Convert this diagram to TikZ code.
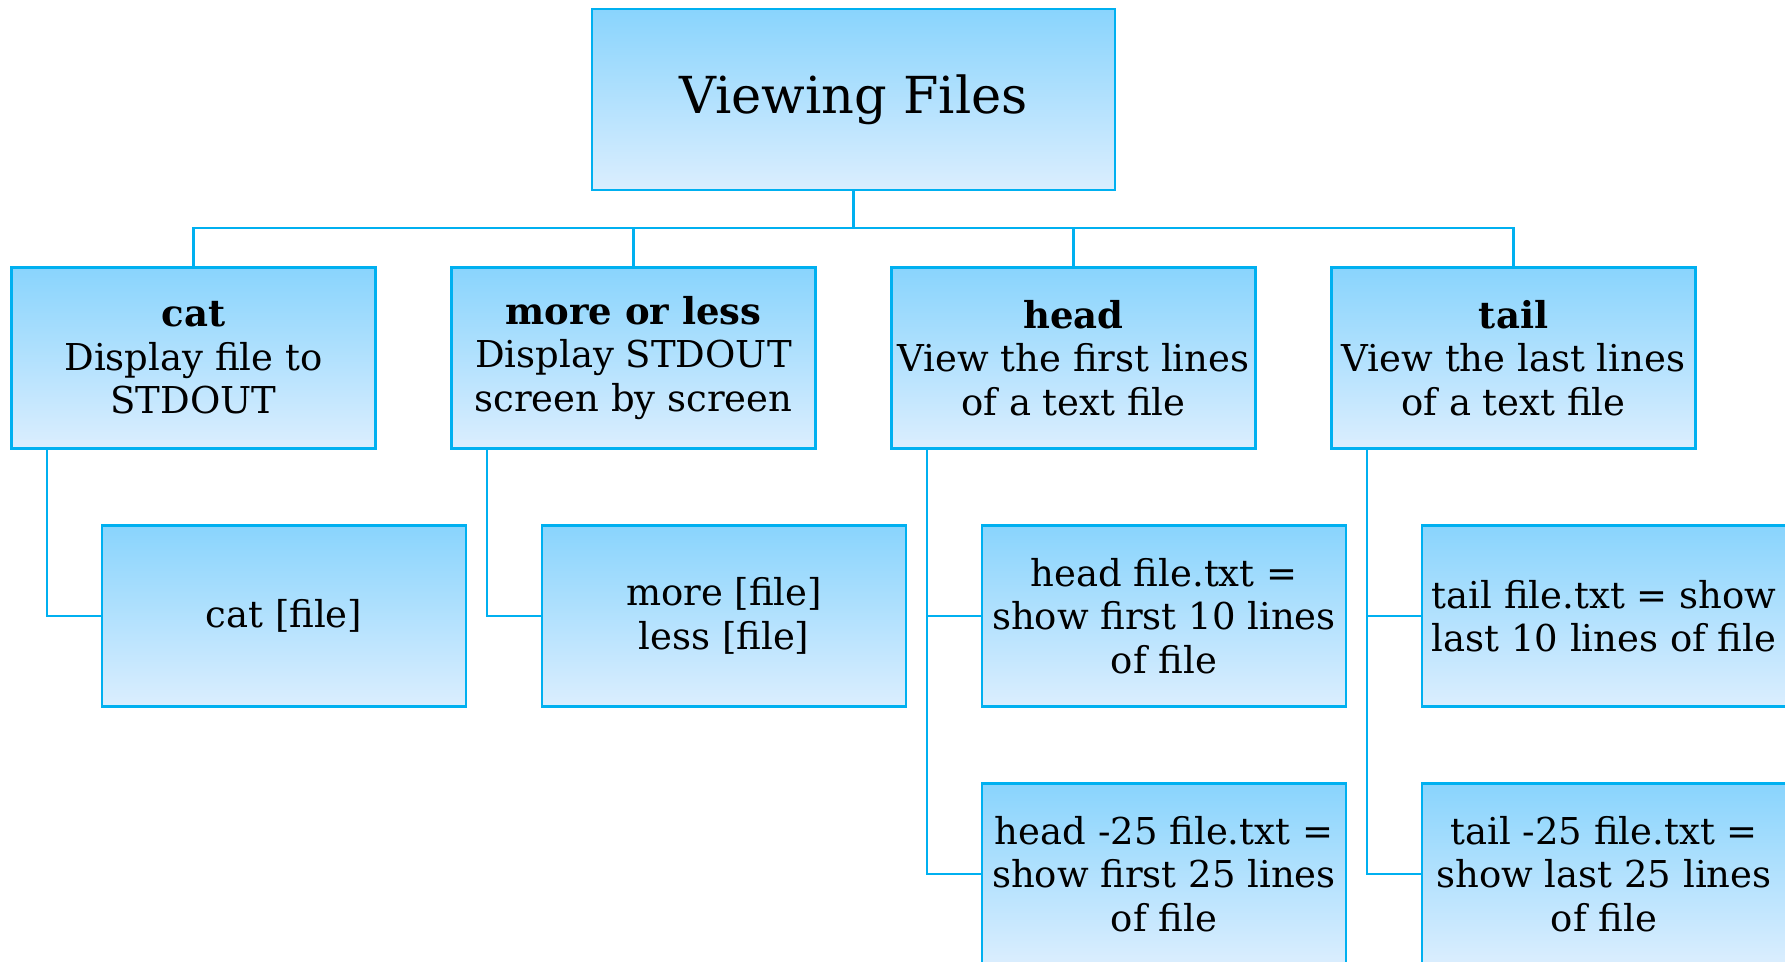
\documentclass[tikz,border=0pt]{standalone}
\usepackage{fontspec}
\setmainfont{DejaVu Serif}
\definecolor{BOXLINE}{RGB}{0,176,240}
\definecolor{BOXTOP}{RGB}{137,212,253}
\definecolor{BOXBOTTOM}{RGB}{219,238,254}
\tikzset{
BOX/.style ={draw=BOXLINE,line width=2.5pt,top color=BOXTOP,bottom color=BOXBOTTOM,minimum width=364pt,minimum height=181pt,inner sep=0pt,align=center,font=\fontsize{37}{43.5}\selectfont},
ROOT/.style ={BOX,minimum width=523pt,font=\fontsize{51}{60}\selectfont},
LINK/.style ={draw=BOXLINE,line width=2.5pt,line join=miter},
}
\begin{document}
\begin{tikzpicture}[x=1pt,y=-1pt]
	\useasboundingbox (0,0) rectangle (1785,961);
	\clip (0,0) rectangle (1785,961);
	%root
	\node[ROOT] (root) at (853.5,99.5) {Viewing Files};
	\coordinate (bus) at (0,228);
	%commands
	\node[BOX] (cat) at (193.5,358) {\textbf{cat}\\Display file to\\STDOUT};
	\node[BOX] (more) at (633.5,358) {\textbf{more or less}\\Display STDOUT\\screen by screen};
	\node[BOX] (head) at (1073.5,358) {\textbf{head}\\View the first lines\\of a text file};
	\node[BOX] (tail) at (1513.5,358) {\textbf{tail}\\View the last lines\\of a text file};
	%usage
	\node[BOX] (catfile) at (284,616) {cat [file]};
	\node[BOX] (morefile) at (724,616) {more [file]\\less [file]};
	\node[BOX] (headten) at (1164,616) {head file.txt =\\show first 10 lines\\of file};
	\node[BOX] (tailten) at (1604,616) {tail file.txt = show\\last 10 lines of file};
	\node[BOX] (headmany) at (1164,874) {head -25 file.txt =\\show first 25 lines\\of file};
	\node[BOX] (tailmany) at (1604,874) {tail -25 file.txt =\\show last 25 lines\\of file};
	%tree
	\foreach \n in {cat,more,head,tail}
		\path[LINK] (root.south) -- (root.south |- bus) -| (\n.north);
	\foreach \a/\b in {cat/catfile,more/morefile,head/headten,head/headmany,tail/tailten,tail/tailmany}
		\path[LINK] ([xshift=36.5pt]\a.south west) |- (\b.west);
\end{tikzpicture}
\end{document}
